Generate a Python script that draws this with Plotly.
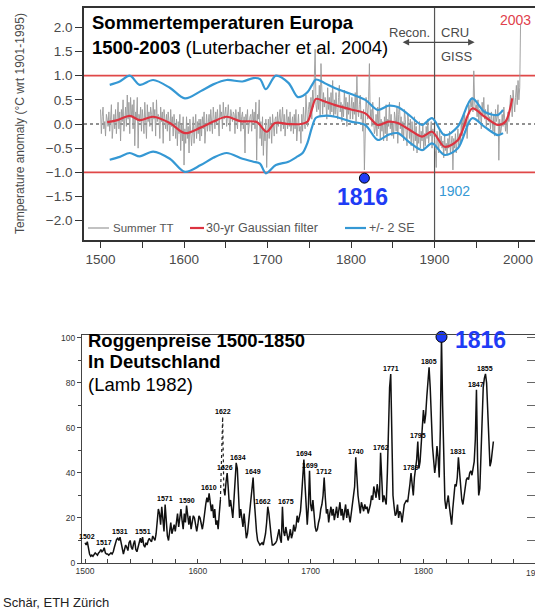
import plotly.graph_objects as go

W, H = 535, 611

# ---------------- Summer temperature anomaly, Europe (°C wrt 1901-1995) ----------------
summer_tt = [
    0.30, -0.20, 0.15, 0.35, -0.10, 0.05, -0.25, 0.20, 0.10, -0.05,   # 1500
    0.25, -0.15, 0.10, 0.40, -0.30, 0.05, 0.20, -0.10, 0.30, -0.20,   # 1510
    0.15, 0.45, -0.10, 0.25, -0.35, 0.30, 0.05, 0.50, -0.15, 0.20,    # 1520
    0.35, -0.05, 0.60, 0.10, 0.45, -0.20, 0.55, 0.15, 0.40, -0.10,    # 1530
    0.50, -0.45, 0.25, 0.10, 0.55, -0.50, 0.20, 0.05, 0.35, -0.15,    # 1540
    0.30, 0.10, -0.20, 0.45, 0.15, -0.30, 0.40, 0.05, 0.25, -0.05,    # 1550
    0.35, 0.20, -0.15, 0.45, 0.10, 0.30, -0.25, 0.50, 0.05, 0.20,     # 1560
    0.15, -0.30, 0.35, 0.05, 0.25, -0.40, 0.30, 0.10, -0.10, 0.20,    # 1570
    -0.15, 0.25, 0.05, -0.35, 0.30, -0.05, 0.15, -0.25, 0.20, 0.00,   # 1580
    -0.30, 0.10, -0.45, 0.05, -0.20, 0.20, -0.55, 0.00, -0.35, 0.15,  # 1590
    -0.85, -0.10, -0.40, 0.15, -0.30, -0.05, -0.60, 0.10, -0.25, -0.45,  # 1600
    -0.15, 0.15, -0.40, -0.05, 0.20, -0.30, 0.05, -0.20, 0.10, -0.35,  # 1610
    0.10, -0.25, 0.15, -0.10, 0.25, -0.40, 0.05, 0.20, -0.15, 0.10,   # 1620
    0.20, -0.15, 0.30, 0.05, -0.20, 0.35, 0.10, -0.10, 0.25, 0.00,    # 1630
    0.30, 0.05, -0.25, 0.40, 0.15, 0.25, -0.10, 0.45, 0.10, 0.20,     # 1640
    0.35, -0.05, 0.25, 0.40, 0.10, -0.15, 0.30, 0.20, 0.05, 0.25,     # 1650
    0.20, -0.20, 0.30, 0.10, -0.10, 0.25, 0.05, 0.35, -0.15, 0.15,    # 1660
    0.25, -0.10, 0.15, -0.60, 0.20, 0.05, 0.30, -0.20, 0.10, 0.15,    # 1670
    0.20, -0.15, 0.30, 0.05, 0.25, -0.10, 0.45, -0.75, 0.20, 0.10,    # 1680
    0.50, -0.30, 0.05, -0.45, 0.15, -0.65, -0.10, -0.35, 0.10, -0.90,  # 1690
    -0.20, 0.10, -0.30, 0.15, -0.05, -0.40, 0.20, 0.00, -0.25, 0.10,  # 1700
    0.15, -0.20, 0.25, -0.05, 0.10, 0.30, -0.15, 0.05, 0.35, -0.10,   # 1710
    0.20, -0.25, 0.10, 0.30, -0.10, 0.15, -0.05, 0.25, -0.15, 0.05,   # 1720
    0.15, -0.20, 0.20, -0.10, 0.30, -0.35, 0.05, 0.20, -0.15, -0.05,  # 1730
    -0.40, 0.20, -0.15, 0.35, 0.05, -0.10, 0.60, 0.15, -0.05, 0.30,   # 1740
    0.45, 0.20, 0.55, 0.10, 0.70, 0.35, 0.90, 1.55, 0.40, 0.25,       # 1750
    0.60, 0.30, 0.80, 0.15, 1.25, 0.45, 0.20, 0.65, 0.35, 0.55,       # 1760
    0.40, 0.10, 0.75, 0.30, 0.55, 0.20, 0.65, 0.25, 0.90, 0.15,       # 1770
    0.50, 0.20, 0.65, 0.30, 0.10, 0.55, 0.80, 0.25, 0.45, 0.05,       # 1780
    0.40, 0.15, 0.70, 0.30, 0.55, -0.05, 0.45, 0.20, 0.60, 0.10,      # 1790
    0.35, 0.55, 0.10, 0.45, 0.20, 0.65, 0.05, 1.00, 0.30, 0.15,       # 1800
    0.40, 0.60, 0.10, 0.25, -0.15, 0.30, -0.95, 0.20, 0.55, 0.35,     # 1810
    0.10, 0.50, 1.25, 0.15, 0.30, -0.05, 0.45, 0.10, -0.20, -0.10,    # 1820
    0.20, -0.25, 0.35, -0.10, 0.55, -0.30, 0.10, -0.15, 0.05, -0.35,  # 1830
    0.15, -0.20, 0.40, -0.35, 0.10, -0.05, 0.45, -0.10, 0.20, -0.25,  # 1840
    0.05, -0.30, 0.25, 0.10, -0.15, 0.35, -0.40, 0.20, 0.45, -0.10,   # 1850
    0.15, -0.25, 0.05, -0.35, 0.30, 0.10, -0.20, -0.45, 0.20, 0.05,   # 1860
    -0.30, 0.10, -0.45, 0.05, -0.20, -0.55, 0.15, -0.35, -0.05, -0.60,  # 1870
    -0.25, -0.40, 0.05, -0.50, -0.15, -0.35, 0.00, -0.55, -0.20, -0.45,  # 1880
    -0.05, -0.30, 0.10, -0.40, -0.15, -0.25, 0.05, -0.50, -0.10, -0.20,  # 1890
    -0.30, -0.55, -0.90, -0.15, -0.40, -0.60, -0.10, -0.45, -0.25, -0.50,  # 1900
    -0.35, -0.70, -0.20, -0.55, -0.40, -0.65, -0.30, -0.50, -0.15, -0.60,  # 1910
    -0.40, -0.25, -0.95, -0.30, -0.50, -0.20, -0.60, -0.35, -0.10, -0.45,  # 1920
    -0.20, -0.40, 0.05, -0.25, 0.15, -0.10, 0.20, -0.05, 0.10, -0.30,  # 1930
    0.15, 0.40, 0.20, 0.50, 0.35, 0.55, 0.25, 1.10, 0.45, 0.30,       # 1940
    0.40, 0.15, 0.50, 0.05, 0.30, 0.25, -0.10, 0.45, 0.20, 0.55,      # 1950
    0.10, 0.30, -0.05, 0.20, 0.40, 0.05, 0.15, -0.10, 0.25, 0.05,     # 1960
    -0.15, 0.20, -0.25, 0.30, 0.05, 0.15, 0.40, -0.75, 0.10, -0.20,   # 1970
    -0.10, 0.20, -0.05, 0.35, 0.00, -0.15, 0.10, -0.20, 0.25, 0.05,   # 1980
    0.30, 0.60, 0.50, 0.15, 0.70, 0.45, 0.25, 0.55, 0.80, 0.40,       # 1990
    0.90, 0.50, 0.75, 2.05,                                           # 2000
]
tt_years = list(range(1500, 1500 + len(summer_tt)))

# 30-yr Gaussian filter
gauss_years = [1508, 1520, 1535, 1547, 1563, 1583, 1601, 1619, 1635, 1651, 1667, 1687,
               1699, 1709, 1725, 1740, 1748, 1753, 1758, 1768, 1781, 1800, 1817, 1832,
               1845, 1856, 1870, 1885, 1897, 1912, 1928, 1945, 1960, 1976, 1985, 1993]
gauss_vals = [0.04, 0.08, 0.17, 0.08, 0.15, 0.02, -0.19, -0.08, 0.05, 0.15, 0.06, 0.04,
              -0.16, 0.02, 0.00, 0.00, 0.05, 0.30, 0.52, 0.47, 0.39, 0.30, 0.22, -0.02,
              0.05, 0.02, -0.12, -0.26, -0.16, -0.47, -0.33, 0.32, 0.15, -0.02, 0.05, 0.53]

# +/- 2 standard errors
se_years = [1511, 1523, 1535, 1547, 1563, 1583, 1601, 1620, 1635, 1651, 1670, 1683,
            1691, 1698, 1710, 1725, 1736, 1742, 1748, 1753, 1758, 1768, 1781, 1800,
            1817, 1832, 1845, 1856, 1870, 1885, 1897, 1912, 1928, 1945, 1960, 1976, 1982]
se_upper = [0.81, 0.88, 1.00, 0.81, 0.91, 0.75, 0.53, 0.68, 0.82, 0.91, 0.88, 0.95,
            0.93, 0.72, 1.00, 0.85, 0.56, 0.58, 0.66, 0.80, 0.92, 0.85, 0.74, 0.62,
            0.50, 0.29, 0.38, 0.35, 0.18, -0.02, 0.12, -0.23, -0.05, 0.53, 0.25, 0.19, 0.29]
se_lower = [-0.74, -0.68, -0.60, -0.67, -0.57, -0.72, -0.99, -0.85, -0.70, -0.60, -0.72, -0.78,
            -0.82, -1.02, -0.85, -0.78, -0.67, -0.60, -0.38, -0.08, 0.13, 0.17, 0.15, 0.05,
            -0.02, -0.33, -0.22, -0.19, -0.38, -0.54, -0.40, -0.64, -0.50, 0.12, -0.06, -0.23, -0.19]

tt_ticks = [1500, 1600, 1700, 1800, 1900, 2000]
anom_ticks = [-2.0, -1.5, -1.0, -0.5, 0.0, 0.5, 1.0, 1.5, 2.0]
year_1816_anom = -1.12

# ---------------- Rye prices in Germany (Lamb 1982) ----------------
rye_price = [
    9, 8, 9.5, 6, 4, 3, 3.5, 3, 4, 4.5,            # 1500
    4, 3.5, 4.5, 5, 6, 5, 5.5, 6.8, 4.5, 4,        # 1510
    4, 3.5, 4, 4.5, 4, 5, 7, 9, 10.5, 11,          # 1520
    10, 11.5, 9, 7, 4, 6, 8, 7, 5.5, 9,            # 1530
    10, 7, 6, 8.5, 10, 6, 5, 7, 10, 11,            # 1540
    9, 11.5, 8, 7, 9, 8, 10, 11, 10, 9.5,          # 1550
    12, 11, 10, 13, 18, 24, 22, 17, 25, 20,        # 1560
    14, 26, 20, 12, 10, 14, 18, 13, 15, 17,        # 1570
    14, 18, 22, 16, 20, 24, 19, 15, 22, 18,        # 1580
    25.5, 22, 17, 21, 15, 18, 21, 20, 16, 14,      # 1590
    17, 21, 20, 17, 15, 18, 23, 26, 29, 27,        # 1600
    31, 27, 23, 26, 20, 24, 17, 19, 15, 22,        # 1610
    28, None, None, 33, 30, 36, 40, 33, 25, 28,    # 1620
    24, 20, 28, 38, 44.5, 42, 26, 20, 24, 18,      # 1630
    16, 22, 14, 11, 13, 18, 22, 26, 30, 38,        # 1640
    28, 18, 14, 10, 9, 8, 8.5, 9, 8, 10,           # 1650
    13, 18, 25, 22, 15, 12, 8, 8, 8.5, 9,          # 1660
    10, 12, 15, 11, 9, 25, 14, 12, 16, 13,         # 1670
    10, 12, 15, 11, 13, 17, 14, 16, 21, 18,        # 1680
    20, 23, 30, 38, 46, 35, 22, 17, 25, 41,        # 1690
    26, 23, 28, 20, 16, 14, 15, 18, 20, 24,        # 1700
    26, 30, 38, 29, 22, 24, 18, 22, 25, 21,        # 1710
    24, 19, 22, 25, 20, 23, 27, 21, 24, 19,        # 1720
    22, 26, 20, 24, 21, 18, 22, 26, 30, 34,        # 1730
    47, 38, 30, 26, 22, 27, 25, 23, 26, 24,        # 1740
    25, 22, 24, 26, 30, 28, 34, 31, 29, 35,        # 1750
    30, 28, 49, 33, 27, 30, 28, 26, 40, 66,        # 1760
    78, 84, 55, 30, 25, 21, 22, 26, 20, 23,        # 1770
    22, 18, 22, 26, 27, 28, 27, 33, 35, 40,        # 1780
    33, 30, 38, 42, 46, 54, 42, 45, 52, 62,        # 1790
    68, 62, 66, 74, 82, 87, 78, 62, 52, 46,        # 1800
    40, 44, 52, 47, 38, 60, 100.5, 70, 40, 28,     # 1810
    24, 27, 30, 25, 20, 17, 24, 30, 35, 34,        # 1820
    38, 47, 40, 33, 28, 26, 30, 35, 37, 38,        # 1830
    37, 40, 41, 39, 42, 45, 55, 77, 45, 30,        # 1840
    33, 50, 68, 78, 82, 84, 80, 65, 50, 43,        # 1850
    45, 50, 54,                                    # 1860
]
rye_years = list(range(1500, 1500 + len(rye_price)))

# 1622 peak, drawn dotted in the source chart
rye_dot_years = [1620, 1622, 1623]
rye_dot_price = [28, 65, 33]

rye_peak_years = [1502, 1517, 1531, 1551, 1571, 1590, 1610, 1622, 1626, 1634, 1649, 1662,
                  1675, 1694, 1699, 1712, 1740, 1762, 1771, 1789, 1795, 1805, 1831, 1847, 1855]
# small horizontal nudges for peak labels that would otherwise collide
peak_label_nudge = {1626: -2, 1634: 2, 1662: -5, 1675: 4}
rye_ticks = [1500, 1600, 1700, 1800]
price_ticks = [0, 20, 40, 60, 80, 100]

# ---------------- styling ----------------
SANS = "Liberation Sans, Arial, Helvetica, sans-serif"
GRAY = "#9a9a9a"
RED = "#dc3340"
BLUE = "#3598d4"
HILITE = "#1f3cf5"
AXIS = "#333333"
SOFT = "#4a4a4a"

# plot areas in pixels (left, top, right, bottom)
TOP_BOX = (84, 8, 535, 240)
BOT_BOX = (82, 335, 535, 563)


def dom_x(box):
    return [box[0] / W, box[2] / W]


def dom_y(box):
    return [(H - box[3]) / H, (H - box[1]) / H]


def px(x):
    return x / W


def py(y):
    return (H - y) / H


fig = go.Figure()

# top panel
fig.add_trace(go.Scatter(x=tt_years, y=summer_tt, mode="lines",
                         line=dict(color=GRAY, width=0.9), xaxis="x", yaxis="y",
                         name="Summer TT", showlegend=False))
fig.add_trace(go.Scatter(x=se_years, y=se_upper, mode="lines",
                         line=dict(color=BLUE, width=2.2, shape="spline", smoothing=0.9),
                         xaxis="x", yaxis="y", showlegend=False))
fig.add_trace(go.Scatter(x=se_years, y=se_lower, mode="lines",
                         line=dict(color=BLUE, width=2.2, shape="spline", smoothing=0.9),
                         xaxis="x", yaxis="y", showlegend=False))
fig.add_trace(go.Scatter(x=gauss_years, y=gauss_vals, mode="lines",
                         line=dict(color=RED, width=2.2, shape="spline", smoothing=0.9),
                         xaxis="x", yaxis="y", showlegend=False))
fig.add_trace(go.Scatter(x=[1816], y=[year_1816_anom], mode="markers",
                         marker=dict(color=HILITE, size=10, line=dict(color="black", width=1)),
                         xaxis="x", yaxis="y", showlegend=False, cliponaxis=False))

# bottom panel
fig.add_trace(go.Scatter(x=rye_years, y=rye_price, mode="lines",
                         line=dict(color="#111111", width=1.5), connectgaps=False,
                         xaxis="x2", yaxis="y2", showlegend=False))
fig.add_trace(go.Scatter(x=rye_dot_years, y=rye_dot_price, mode="lines",
                         line=dict(color="#222222", width=1.2, dash="dot"),
                         xaxis="x2", yaxis="y2", showlegend=False))
rye_lookup = dict(zip(rye_years, rye_price))
rye_lookup.update(dict(zip(rye_dot_years, rye_dot_price)))
peak_1816 = rye_lookup[1816]
fig.add_trace(go.Scatter(x=[1816], y=[peak_1816], mode="markers",
                         marker=dict(color=HILITE, size=11, line=dict(color="black", width=1)),
                         xaxis="x2", yaxis="y2", showlegend=False, cliponaxis=False))

# ---- reference lines in the top panel ----
shapes = []
for level in (1.0, -1.0):
    shapes.append(dict(type="line", xref="x domain", yref="y", x0=0, x1=1, y0=level, y1=level,
                       line=dict(color="#e04848", width=1.6), layer="below"))
shapes.append(dict(type="line", xref="x domain", yref="y", x0=0, x1=1, y0=0, y1=0,
                   line=dict(color="#222222", width=1, dash="dot"), layer="below"))
shapes.append(dict(type="line", xref="x", yref="y domain", x0=1900, x1=1900, y0=0, y1=1,
                   line=dict(color="#555555", width=1.2), layer="below"))

# legend of the top panel
legend_items = [
    (88, 109, GRAY, 1.2, 111, "Summer TT", 11.5),
    (190, 204, RED, 2.2, 204, "30-yr Gaussian filter", 12.5),
    (345, 366, BLUE, 2.2, 367, "+/- 2 SE", 12.5),
]
annotations = []
for x0, x1, col, w, tx, label, fs in legend_items:
    shapes.append(dict(type="line", xref="paper", yref="paper", x0=px(x0), x1=px(x1),
                       y0=py(228), y1=py(228), line=dict(color=col, width=w)))
    annotations.append(dict(xref="paper", yref="paper", x=px(tx), y=py(228), xanchor="left",
                            yanchor="middle", showarrow=False, text=label,
                            font=dict(family=SANS, size=fs, color="#555555")))

# ---- text in the top panel ----
annotations += [
    dict(xref="paper", yref="paper", x=px(90), y=py(22.5), xanchor="left", yanchor="middle",
         showarrow=False, text="<b>Sommertemperaturen Europa</b>",
         font=dict(family=SANS, size=18.5, color="black")),
    dict(xref="paper", yref="paper", x=px(90), y=py(47.5), xanchor="left", yanchor="middle",
         showarrow=False, text="<b>1500-2003</b> (Luterbacher et al. 2004)",
         font=dict(family=SANS, size=18.5, color="black")),
    dict(xref="paper", yref="paper", x=px(20), y=py(124), xanchor="center", yanchor="middle",
         textangle=-90, showarrow=False, text="Temperature anomaly (°C wrt 1901-1995)",
         font=dict(family=SANS, size=12, color=SOFT)),
    dict(xref="x", yref="y", x=1870.5, y=1.90, showarrow=False, text="Recon.",
         font=dict(family=SANS, size=13, color=SOFT)),
    dict(xref="x", yref="y", x=1924, y=1.90, showarrow=False, text="CRU",
         font=dict(family=SANS, size=13, color=SOFT)),
    dict(xref="x", yref="y", x=1926, y=1.40, showarrow=False, text="GISS",
         font=dict(family=SANS, size=13, color=SOFT)),
    dict(xref="x", yref="y", x=1948, y=1.69, ax=1860, ay=1.69, axref="x", ayref="y",
         text="", showarrow=True, arrowhead=2, arrowside="end+start", arrowsize=1,
         arrowwidth=1.3, arrowcolor=SOFT),
    dict(xref="x", yref="y", x=1997, y=2.16, showarrow=False, text="2003",
         font=dict(family=SANS, size=14, color="#e0404c")),
    dict(xref="x", yref="y", x=1924, y=-1.39, showarrow=False, text="1902",
         font=dict(family=SANS, size=14, color=BLUE)),
    dict(xref="x", yref="y", x=1816, y=year_1816_anom, yshift=-19, xshift=-2, showarrow=False,
         text="<b>1816</b>", font=dict(family=SANS, size=23, color=HILITE)),
]

# ---- text in the bottom panel ----
annotations += [
    dict(xref="paper", yref="paper", x=px(86), y=py(340), xanchor="left", yanchor="middle",
         showarrow=False, text="<b>Roggenpreise 1500-1850</b>",
         font=dict(family=SANS, size=18.5, color="black")),
    dict(xref="paper", yref="paper", x=px(86), y=py(361.5), xanchor="left", yanchor="middle",
         showarrow=False, text="<b>In Deutschland</b>",
         font=dict(family=SANS, size=18.5, color="black")),
    dict(xref="paper", yref="paper", x=px(86), y=py(384.5), xanchor="left", yanchor="middle",
         showarrow=False, text="(Lamb 1982)",
         font=dict(family=SANS, size=18.5, color="black")),
    dict(xref="x2", yref="y2", x=1816, y=peak_1816, xanchor="left", xshift=12, yshift=-3,
         showarrow=False, text="<b>1816</b>", font=dict(family=SANS, size=23, color=HILITE)),
    dict(xref="paper", yref="paper", x=px(535), y=py(573), xanchor="center", yanchor="middle",
         showarrow=False, text="1900", font=dict(family=SANS, size=8.5, color="#333333")),
    dict(xref="paper", yref="paper", x=px(1), y=py(602), xanchor="left", yanchor="middle",
         showarrow=False, text="Schär, ETH Zürich",
         font=dict(family=SANS, size=13, color="#222222")),
]
for yr in rye_peak_years:
    annotations.append(dict(xref="x2", yref="y2", x=yr, y=rye_lookup[yr], yanchor="bottom",
                            xshift=peak_label_nudge.get(yr, 0), yshift=0, showarrow=False,
                            text=f"<b>{yr}</b>",
                            font=dict(family=SANS, size=7, color="#000000")))

fig.update_layout(
    template="none",
    width=W, height=H,
    margin=dict(l=0, r=0, t=0, b=0, pad=0, autoexpand=False),
    paper_bgcolor="white", plot_bgcolor="white",
    showlegend=False,
    shapes=shapes, annotations=annotations,
    xaxis=dict(domain=dom_x(TOP_BOX), anchor="y", range=[1480.2, 2020.3], automargin=False,
               tickvals=tt_ticks, ticks="outside", ticklen=6, tickwidth=1.3, tickcolor=AXIS,
               minor=dict(dtick=50, tick0=1500, ticks="outside", ticklen=6, tickwidth=1.3,
                          tickcolor=AXIS, showgrid=False),
               showline=True, linecolor=AXIS, linewidth=1.6, mirror=True, showgrid=False,
               zeroline=False, tickfont=dict(family=SANS, size=13.5, color=SOFT)),
    yaxis=dict(domain=dom_y(TOP_BOX), anchor="x", range=[-2.4, 2.4], automargin=False,
               tickvals=anom_ticks, tickformat=".1f", ticks="outside", ticklen=7,
               tickwidth=1.3, tickcolor=AXIS, showline=True, linecolor=AXIS, linewidth=1.6,
               showgrid=False, zeroline=False,
               tickfont=dict(family=SANS, size=13.5, color=SOFT)),
    xaxis2=dict(domain=dom_x(BOT_BOX), anchor="y2", range=[1497.3, 1898.9], automargin=False,
                tickvals=rye_ticks, ticks="inside", ticklen=4, tickwidth=1, tickcolor="#444444",
                minor=dict(dtick=20, tick0=1500, ticks="inside", ticklen=4, tickwidth=1,
                           tickcolor="#444444", showgrid=False),
                showline=True, linecolor="#444444", linewidth=1.3, mirror=True, showgrid=False,
                zeroline=False, tickfont=dict(family=SANS, size=8.5, color="#333333")),
    yaxis2=dict(domain=dom_y(BOT_BOX), anchor="x2", range=[0, 101.3], automargin=False,
                tickvals=price_ticks, ticks="outside", ticklen=4, tickwidth=1,
                tickcolor="#444444",
                minor=dict(dtick=10, ticks="outside", ticklen=3, tickwidth=1,
                           tickcolor="#444444", showgrid=False),
                showline=True, linecolor="#444444", linewidth=1.3, showgrid=False,
                zeroline=False, tickfont=dict(family=SANS, size=8.5, color="#333333")),
    yaxis3=dict(overlaying="y2", anchor="x2", side="right", range=[0, 101.3], dtick=10,
                automargin=False, ticks="inside", ticklen=8, tickwidth=1, tickcolor="#666666",
                showticklabels=False, showline=False, showgrid=False, zeroline=False),
)

# invisible trace so the right-hand tick axis is rendered
fig.add_trace(go.Scatter(x=[1600], y=[50], mode="markers", marker=dict(opacity=0),
                         xaxis="x2", yaxis="y3", showlegend=False, hoverinfo="skip"))

fig.write_html("out.html", config={"displayModeBar": False})
